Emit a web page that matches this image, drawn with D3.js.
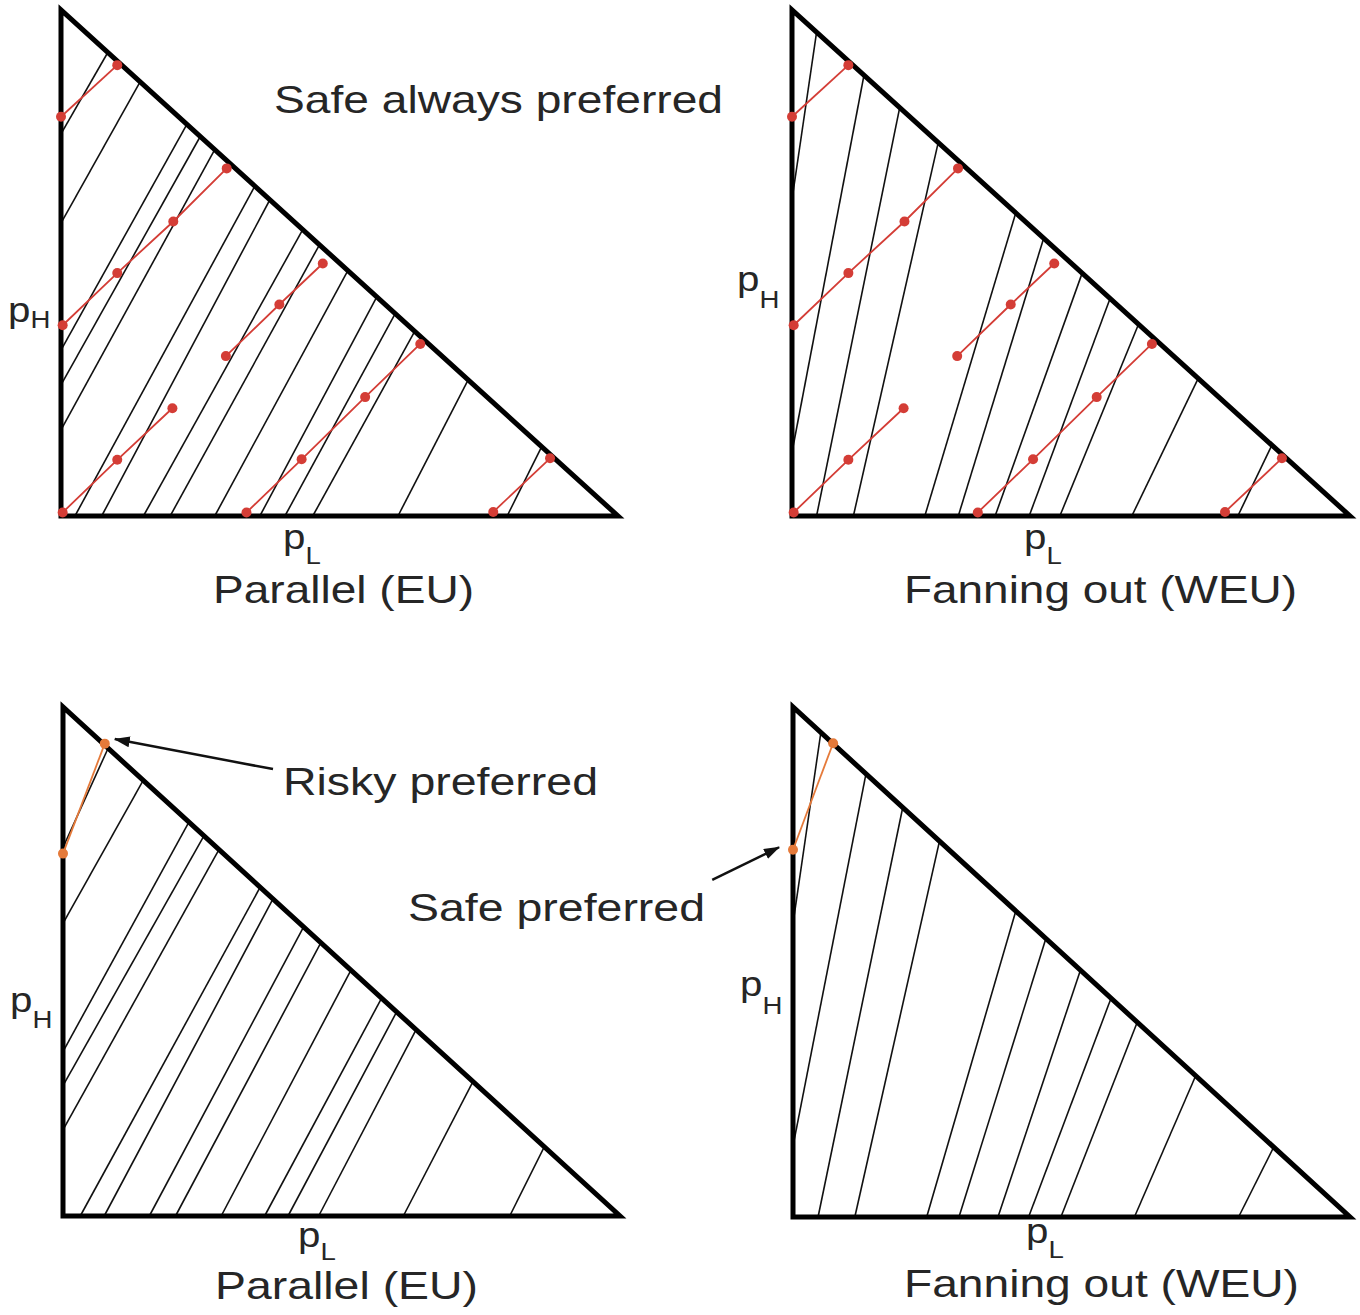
<!DOCTYPE html>
<html>
<head>
<meta charset="utf-8">
<script src="https://cdn.jsdelivr.net/npm/d3@7"></script>
<style>
  body { margin: 0; background: #fff; }
  text { font-family: "Liberation Sans", Arial, sans-serif; fill: #262626; }
</style>
</head>
<body>
<div id="chart"></div>
<script>
// Indifference lines, one row per line: [start pL, start pH, pL where it meets the hypotenuse]
const linesParallelTop = [
  [0, 0.755, 0.084], [0, 0.579, 0.142], [0, 0.328, 0.226], [0, 0.259, 0.250], [0, 0.170, 0.276],
  [0.025, 0, 0.348], [0.073, 0, 0.375], [0.148, 0, 0.434], [0.196, 0, 0.464], [0.276, 0, 0.515],
  [0.357, 0, 0.567], [0.402, 0, 0.600], [0.452, 0, 0.635], [0.605, 0, 0.731], [0.801, 0, 0.863]
];
const linesFanTop = [
  [0, 0.625, 0.044], [0, 0.126, 0.129], [0.044, 0, 0.193], [0.110, 0, 0.262], [0.238, 0, 0.401],
  [0.298, 0, 0.451], [0.364, 0, 0.520], [0.425, 0, 0.570], [0.480, 0, 0.621], [0.609, 0, 0.728],
  [0.799, 0, 0.860]
];
const linesParallelBottom = [
  [0, 0.724, 0.081], [0, 0.575, 0.144], [0, 0.323, 0.226], [0, 0.256, 0.253], [0, 0.169, 0.280],
  [0.031, 0, 0.354], [0.074, 0, 0.377], [0.155, 0, 0.432], [0.202, 0, 0.463], [0.284, 0, 0.517],
  [0.362, 0, 0.572], [0.404, 0, 0.599], [0.459, 0, 0.634], [0.611, 0, 0.736], [0.802, 0, 0.864]
];
const linesFanBottom = [
  [0, 0.575, 0.050], [0, 0.139, 0.131], [0.045, 0, 0.197], [0.111, 0, 0.263], [0.240, 0, 0.400],
  [0.298, 0, 0.454], [0.368, 0, 0.516], [0.423, 0, 0.571], [0.481, 0, 0.618], [0.613, 0, 0.723],
  [0.800, 0, 0.863]
];

// Lottery chains (red), [pL, pH]
const lotteryChains = [
  [[0, 0.789], [0.101, 0.891]],
  [[0.003, 0.377], [0.101, 0.480], [0.2016, 0.582], [0.2975, 0.687]],
  [[0.296, 0.316], [0.392, 0.418], [0.47, 0.499]],
  [[0.003, 0.007], [0.101, 0.111], [0.2, 0.213]],
  [[0.333, 0.007], [0.432, 0.112], [0.546, 0.235], [0.645, 0.34]],
  [[0.776, 0.008], [0.878, 0.114]]
];
// Single pairs in the lower panels (orange)
const pairParallel = [[0, 0.712], [0.075, 0.928]];
const pairFan = [[0, 0.72], [0.072, 0.929]];

const panelTitles = ["Parallel (EU)", "Fanning out (WEU)", "Parallel (EU)", "Fanning out (WEU)"];

// Set up svg
const svg = d3.select("#chart")
  .append("svg")
  .attr("width", 1360)
  .attr("height", 1315);

svg.append("defs").append("marker")
  .attr("id", "arrow")
  .attr("markerUnits", "userSpaceOnUse")
  .attr("viewBox", "0 0 16 11")
  .attr("refX", 15)
  .attr("refY", 5.5)
  .attr("markerWidth", 16)
  .attr("markerHeight", 11)
  .attr("orient", "auto")
  .append("path")
  .attr("d", "M0,0 L16,5.5 L0,11 Z")
  .attr("fill", "#111");

// Panel frames (pixel placement of each triangle)
const panels = [
  { x0: 61, x1: 618, yt: 10, yb: 516, lines: linesParallelTop, chains: lotteryChains, color: "#d43d36",
    title: [213, 603, 261], pH: [8, 322, 6], pL: [283, 549, 15] },
  { x0: 792, x1: 1350, yt: 10, yb: 516, lines: linesFanTop, chains: lotteryChains, color: "#d43d36",
    title: [904, 603, 393], pH: [737, 291, 17], pL: [1024, 549, 15] },
  { x0: 63, x1: 620, yt: 707, yb: 1216, lines: linesParallelBottom, chains: [pairParallel], color: "#e57a3a",
    title: [215, 1299, 263], pH: [10, 1012, 16], pL: [298, 1247, 13] },
  { x0: 793, x1: 1350, yt: 707, yb: 1217, lines: linesFanBottom, chains: [pairFan], color: "#e57a3a",
    title: [904, 1297, 395], pH: [740, 996, 18], pL: [1026, 1243, 15] }
];

const scales = [];

panels.forEach(function(p, i) {
  const x = d3.scaleLinear().domain([0, 1]).range([p.x0, p.x1]);
  const y = d3.scaleLinear().domain([0, 1]).range([p.yb, p.yt]);
  scales.push({ x: x, y: y });
  const g = svg.append("g");

  // thin indifference lines
  g.selectAll(".ind")
    .data(p.lines)
    .enter()
    .append("line")
    .attr("x1", d => x(d[0]))
    .attr("y1", d => y(d[1]))
    .attr("x2", d => x(d[2]))
    .attr("y2", d => y(1 - d[2]))
    .attr("stroke", "#111")
    .attr("stroke-width", 1.6);

  // triangle outline
  g.append("path")
    .attr("d", d3.line()([[x(0), y(1)], [x(0), y(0)], [x(1), y(0)]]) + "Z")
    .attr("fill", "none")
    .attr("stroke", "#000")
    .attr("stroke-width", 5)
    .attr("stroke-linejoin", "miter");

  // lottery chains
  g.selectAll(".chain")
    .data(p.chains)
    .enter()
    .append("path")
    .attr("d", d3.line().x(d => x(d[0])).y(d => y(d[1])))
    .attr("fill", "none")
    .attr("stroke", p.color)
    .attr("stroke-width", 1.8);

  g.selectAll(".dot")
    .data(p.chains.flat())
    .enter()
    .append("circle")
    .attr("cx", d => x(d[0]))
    .attr("cy", d => y(d[1]))
    .attr("r", 5)
    .attr("fill", p.color);

  // title under the triangle
  svg.append("text")
    .attr("x", p.title[0])
    .attr("y", p.title[1])
    .attr("textLength", p.title[2])
    .attr("lengthAdjust", "spacingAndGlyphs")
    .style("font-size", "39px")
    .text(panelTitles[i]);

  // axis labels with subscripts
  [["H", p.pH], ["L", p.pL]].forEach(function(a) {
    const t = svg.append("text")
      .attr("transform", "translate(" + a[1][0] + "," + a[1][1] + ") scale(1.15,1)");
    t.append("tspan").style("font-size", "35px").text("p");
    t.append("tspan").attr("dy", a[1][2]).style("font-size", "24px").text(a[0]);
  });
});

// annotations
function note(str, x, yb, len) {
  svg.append("text")
    .attr("x", x)
    .attr("y", yb)
    .attr("textLength", len)
    .attr("lengthAdjust", "spacingAndGlyphs")
    .style("font-size", "39px")
    .text(str);
}
note("Safe always preferred", 274, 113, 449);
note("Risky preferred", 283, 795, 315);
note("Safe preferred", 408, 921, 297);

// arrows, placed in the coordinates of the panel they point into
const s3 = scales[2], s4 = scales[3];
svg.append("line")
  .attr("x1", s3.x(0.377)).attr("y1", s3.y(0.878))
  .attr("x2", s3.x(0.093)).attr("y2", s3.y(0.937))
  .attr("stroke", "#111").attr("stroke-width", 2.5)
  .attr("marker-end", "url(#arrow)");
svg.append("line")
  .attr("x1", s4.x(-0.145)).attr("y1", s4.y(0.661))
  .attr("x2", s4.x(-0.025)).attr("y2", s4.y(0.725))
  .attr("stroke", "#111").attr("stroke-width", 2.5)
  .attr("marker-end", "url(#arrow)");
</script>
</body>
</html>
